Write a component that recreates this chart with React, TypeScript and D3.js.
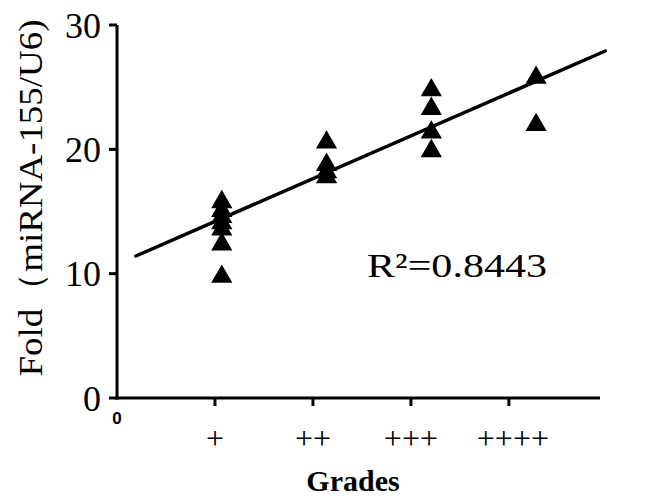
import React from "react";
import * as d3 from "d3";

const grades = [1, 2, 3, 4];
const gradeLabels = ["+", "++", "+++", "++++"];
const grade1 = [16.0, 15.3, 14.8, 14.3, 13.8, 12.6, 10.0];
const grade2 = [20.8, 19.0, 18.4, 18.0];
const grade3 = [25.0, 23.5, 21.6, 20.1];
const grade4 = [26.0, 22.2];
const seriesByGrade = [grade1, grade2, grade3, grade4];
const yTicks = [0, 10, 20, 30];
const fitSlope = 3.68;
const fitIntercept = 10.76;
const fitRange = [0.18, 4.66];
const r2Text = "0.8443";

const W = 647;
const H = 500;
const serif = "'Liberation Serif', 'Times New Roman', serif";

export default function App() {
  const x = d3.scaleLinear().domain([0, 4.61]).range([117, 600]);
  const xTick = d3.scaleLinear().domain([0, 4.93]).range([117, 600]);
  const y = d3.scaleLinear().domain([0, 30]).range([398, 25]);

  const tri = d3.symbol().type(d3.symbolTriangle).size(195)();
  const points = seriesByGrade.flatMap((vals, i) =>
    vals.map((v) => ({ g: grades[i], v }))
  );
  const line = d3
    .line<number>()
    .x((d) => x(d))
    .y((d) => y(fitIntercept + fitSlope * d));

  return (
    <svg width={W} height={H} style={{ position: "absolute", left: 0, top: 0, background: "#fff" }}>
      {/* axes */}
      <line x1={117} x2={117} y1={y(30)} y2={y(0) + 1.5} stroke="#000" strokeWidth={3} />
      <line x1={115.5} x2={600} y1={y(0)} y2={y(0)} stroke="#000" strokeWidth={3} />
      {yTicks.map((t) => (
        <g key={t}>
          <line x1={109} x2={117} y1={y(t)} y2={y(t)} stroke="#000" strokeWidth={3} />
          <text
            x={101}
            y={y(t)}
            dy="0.35em"
            textAnchor="end"
            fontFamily={serif}
            fontSize={36}
            fill="#000"
          >
            {t}
          </text>
        </g>
      ))}
      {grades.map((g, i) => (
        <g key={g}>
          <line x1={xTick(g)} x2={xTick(g)} y1={y(0)} y2={y(0) + 8} stroke="#000" strokeWidth={3} />
          <text
            x={xTick(g) + (i === 3 ? 4 : 0)}
            y={438}
            dy="0.35em"
            textAnchor="middle"
            fontFamily={serif}
            fontSize={32}
            fill="#000"
          >
            {gradeLabels[i]}
          </text>
        </g>
      ))}
      <text x={117} y={418} dy="0.35em" textAnchor="middle" fontFamily="'Liberation Sans', Arial, sans-serif" fontWeight="bold" fontSize={17} fill="#000">
        0
      </text>
      <text x={353} y={491} textAnchor="middle" fontFamily={serif} fontWeight="bold" fontSize={30} fill="#000">
        Grades
      </text>
      <text
        transform={`translate(30, 198) rotate(-90)`}
        dy="0.35em"
        textAnchor="middle"
        fontFamily={serif}
        fontSize={34}
        fill="#000"
        textLength={357}
        lengthAdjust="spacingAndGlyphs"
      >
        Fold（miRNA-155/U6)
      </text>

      {/* regression line */}
      <path d={line(fitRange) || ""} fill="none" stroke="#000" strokeWidth={3.5} strokeLinecap="round" />

      {/* points */}
      {points.map((p, i) => (
        <path key={i} d={tri || ""} transform={`translate(${x(p.g)}, ${y(p.v) + 3})`} fill="#000" />
      ))}

      <text x={367} y={277} fontFamily={serif} fontSize={34} fill="#000" textLength={180} lengthAdjust="spacingAndGlyphs">
        R²={r2Text}
      </text>
    </svg>
  );
}
